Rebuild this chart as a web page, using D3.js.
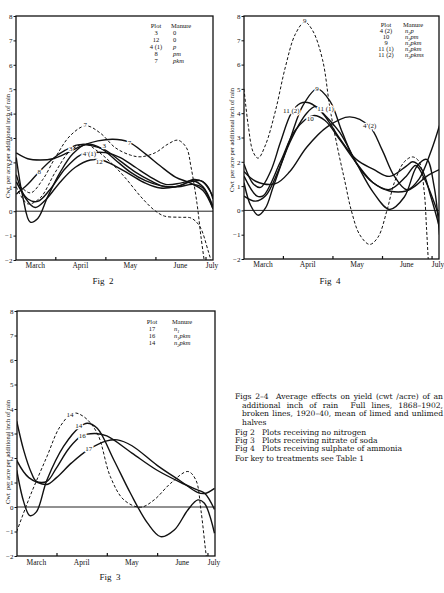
<!DOCTYPE html>
<html>
<head>
<meta charset="utf-8">
<script src="https://cdn.jsdelivr.net/npm/d3@7"></script>
<style>
  body { margin: 0; background: #fff; }
  svg text { font-family: "Liberation Serif", "DejaVu Serif", serif; fill: #111; }
</style>
</head>
<body>
<div id="chart"></div>
<script>

// x values are months counted from 1 March (1 = 1 April ...), y in cwt/acre per inch of rain
var monthLabels = ["March", "April", "May", "June", "July"];
var monthLabelPos = [0.6, 1.5, 2.5, 3.5, 4.13];
var monthTicks = [1, 2, 3, 4];
var yTicks = [-2, -1, 0, 1, 2, 3, 4, 5, 6, 7, 8];

// ---- Fig 2 : no nitrogen
var f2_7 = [[0.22,2.39],[0.45,2.15],[0.7,2.1],[0.95,2.15],[1.25,2.4],[1.55,2.7],[1.85,2.88],[2.15,2.95],[2.45,2.85],[2.8,2.35],[3.1,1.85],[3.4,1.4],[3.7,1.15],[3.95,0.85],[4.15,0.1]];
var f2_3 = [[0.22,2.2],[0.35,0.6],[0.5,-0.45],[0.65,-0.3],[0.85,0.6],[1.1,1.6],[1.35,2.35],[1.62,2.75],[1.9,2.6],[2.2,2.1],[2.5,1.6],[2.8,1.25],[3.1,1.05],[3.45,1.0],[3.75,1.1],[3.95,0.95],[4.15,0.1]];
var f2_12 = [[0.22,1.5],[0.4,0.55],[0.6,0.15],[0.8,0.45],[1.1,1.2],[1.4,1.8],[1.7,2.1],[1.95,2.08],[2.2,1.85],[2.5,1.5],[2.8,1.15],[3.1,0.95],[3.4,1.0],[3.7,1.2],[3.9,1.25],[4.05,1.0],[4.15,0.5]];
var f2_41 = [[0.22,1.2],[0.45,0.5],[0.65,0.4],[0.9,0.9],[1.2,1.75],[1.5,2.3],[1.75,2.4],[2.0,2.4],[2.3,2.2],[2.6,1.8],[2.9,1.4],[3.2,1.1],[3.5,1.15],[3.75,1.25],[3.95,1.0],[4.15,0.2]];
var f2_8 = [[0.22,0.7],[0.45,1.1],[0.68,1.62],[0.95,2.15],[1.2,2.5],[1.45,2.72],[1.7,2.7],[2.0,2.5],[2.3,2.05],[2.6,1.6],[2.9,1.25],[3.2,1.0],[3.5,1.05],[3.75,1.3],[3.95,1.2],[4.15,0.6]];
var f2_7b = [[0.22,1.2],[0.5,0.75],[0.75,1.3],[1.0,2.2],[1.3,3.1],[1.61,3.5],[1.9,3.2],[2.2,2.6],[2.5,2.3],[2.71,2.23],[3.0,2.4],[3.25,2.75],[3.45,2.91],[3.62,2.6],[3.71,1.82],[3.83,0.32],[3.91,-1.05],[3.98,-2.1]];
var f2_3b = [[0.22,1.0],[0.45,0.3],[0.7,0.55],[1.0,1.6],[1.31,2.5],[1.6,2.75],[1.85,2.45],[2.08,2.05],[2.38,1.41],[2.71,0.59],[2.98,0.04],[3.18,-0.2],[3.5,-0.25],[3.71,-0.28],[3.88,-0.6],[4.05,-1.6],[4.12,-2.1]];
var fig2Series = [f2_7, f2_3, f2_12, f2_41, f2_8, f2_7b, f2_3b];
var fig2Broken = [false, false, false, false, false, true, true];
var fig2LabelText = ["7", "7", "3", "3", "4 (1)", "12", "8"];
var fig2LabelX = [1.6, 2.48, 1.31, 1.98, 1.68, 1.88, 0.68];
var fig2LabelY = [3.55, 2.82, 2.57, 2.7, 2.36, 2.05, 1.64];
var fig2LegendPlot = ["3", "12", "4 (1)", "8", "7"];
var fig2LegendManure = ["0", "0", "p", "pm", "pkm"];

// ---- Fig 4 : sulphate of ammonia
var f4_112 = [[0.215,1.9],[0.4,1.1],[0.55,0.95],[0.75,1.6],[0.95,2.8],[1.17,4.0],[1.35,4.4],[1.54,4.42],[1.8,4.0],[2.15,2.95],[2.48,2.1],[2.82,1.7],[3.15,1.4],[3.49,1.82],[3.62,2.0],[3.8,1.7],[3.98,0.6],[4.16,-0.7]];
var f4_9 = [[0.215,0.59],[0.45,0.38],[0.65,0.6],[0.9,1.6],[1.14,2.9],[1.4,4.3],[1.69,5.0],[1.95,4.5],[2.2,3.2],[2.48,1.95],[2.82,1.14],[3.15,0.86],[3.49,1.41],[3.68,1.85],[3.88,1.2],[4.16,-0.3]];
var f4_111 = [[0.215,1.14],[0.35,0.2],[0.5,-0.2],[0.65,0.1],[0.81,1.0],[1.14,2.8],[1.48,4.0],[1.66,4.28],[1.81,4.0],[2.15,3.2],[2.48,1.96],[2.82,0.75],[3.15,0.04],[3.45,0.55],[3.7,1.8],[3.9,2.1],[4.05,1.0],[4.16,-1.0]];
var f4_10 = [[0.215,1.41],[0.47,0.6],[0.6,0.6],[0.95,2.0],[1.25,3.3],[1.61,3.9],[1.85,3.7],[2.15,2.9],[2.48,1.96],[2.82,1.14],[3.15,0.8],[3.49,0.8],[3.7,1.05],[3.9,1.4],[4.16,1.68]];
var f4_42 = [[0.215,1.6],[0.45,1.2],[0.85,1.1],[1.14,1.6],[1.48,2.6],[1.9,3.45],[2.35,3.85],[2.75,3.45],[3.0,2.5],[3.25,1.4],[3.5,0.85],[3.75,1.3],[4.0,2.5],[4.16,3.5]];
var f4_9b = [[0.215,5.0],[0.3,3.5],[0.4,2.4],[0.5,2.15],[0.65,2.7],[0.85,4.1],[1.05,5.9],[1.25,7.25],[1.44,7.75],[1.6,7.4],[1.8,6.2],[1.95,4.2],[2.1,2.6],[2.25,1.2],[2.38,0],[2.55,-1.0],[2.75,-1.4],[2.92,-1.1],[3.1,0],[3.25,1.15],[3.45,2.0],[3.62,2.2],[3.75,2.0],[3.85,0.8],[3.9,-0.8],[3.94,-2.3]];
var fig4Series = [f4_112, f4_9, f4_111, f4_10, f4_42, f4_9b];
var fig4Broken = [false, false, false, false, false, true];
var fig4LabelText = ["9", "9", "11 (2)", "11 (1)", "10", "4 (2)"];
var fig4LabelX = [1.44, 1.69, 1.17, 1.86, 1.55, 2.75];
var fig4LabelY = [7.8, 5.0, 4.1, 4.18, 3.8, 3.5];
var fig4LegendPlot = ["4 (2)", "10", "9", "11 (1)", "11 (2)"];
var fig4LegendManure = ["n2p", "n2pm", "n2pkm", "n3pkm", "n3pkms"];

// ---- Fig 3 : nitrate of soda
var f3_14 = [[0.21,1.5],[0.35,0.2],[0.47,-0.35],[0.6,-0.2],[0.81,1.1],[1.14,2.47],[1.47,3.28],[1.61,3.42],[1.81,3.21],[2.14,1.92],[2.47,0.56],[2.81,-0.66],[3.07,-1.21],[3.34,-0.94],[3.61,-0.12],[3.81,0.29],[3.94,0.15],[4.14,-1.07]];
var f3_16 = [[0.21,3.5],[0.35,2.3],[0.5,1.4],[0.6,1.05],[0.81,1.05],[1.0,1.6],[1.25,2.4],[1.5,2.9],[1.77,3.0],[2.0,2.9],[2.5,2.2],[3.0,1.5],[3.47,1.0],[3.8,0.7],[3.95,0.55],[4.14,-0.1]];
var f3_17 = [[0.21,1.9],[0.45,1.2],[0.81,0.92],[1.0,1.2],[1.3,1.8],[1.64,2.35],[2.0,2.7],[2.21,2.74],[2.5,2.5],[3.0,1.7],[3.47,1.05],[3.8,0.6],[3.95,0.55],[4.14,0.76]];
var f3_14b = [[0.21,-1.0],[0.47,0.42],[0.81,2.06],[1.07,3.28],[1.33,3.83],[1.54,3.69],[1.81,3.01],[2.07,1.24],[2.34,0.29],[2.67,-0.01],[2.94,0.29],[3.27,0.97],[3.61,1.45],[3.77,1.1],[3.87,-0.12],[3.97,-1.89],[4.0,-2.3]];
var fig3Series = [f3_14, f3_16, f3_17, f3_14b];
var fig3Broken = [false, false, false, true];
var fig3LabelText = ["14", "14", "16", "17"];
var fig3LabelX = [1.27, 1.44, 1.51, 1.64];
var fig3LabelY = [3.78, 3.32, 2.92, 2.4];
var fig3LegendPlot = ["17", "16", "14"];
var fig3LegendManure = ["n1", "n1pkm", "n2pkm"];

var captionLines = [
  "Figs 2\u20134  Average effects on yield (cwt /acre) of an",
  "additional inch of rain  Full lines, 1868\u20131902,",
  "broken lines, 1920\u201340, mean of limed and unlimed",
  "halves",
  "Fig 2   Plots receiving no nitrogen",
  "Fig 3   Plots receiving nitrate of soda",
  "Fig 4   Plots receiving sulphate of ammonia",
  "For key to treatments see Table 1"
];

var W = 444, H = 593;
var xDomain = [0.215, 4.15];

var svg = d3.select("#chart").append("svg")
  .attr("width", W).attr("height", H);

var panels = [
  { name: "f2", left: 16, right: 213, top: 16, bottom: 260, ylabX: 8, ylabY: 146, monthY: 268,
    fig: "Fig 2", figX: 103, figY: 284,
    series: fig2Series, broken: fig2Broken, lt: fig2LabelText, lx: fig2LabelX, ly: fig2LabelY,
    legPlot: fig2LegendPlot, legMan: fig2LegendManure, legPX: 156, legMX: 171, legY: 28, legStep: 7 },
  { name: "f4", left: 244, right: 439, top: 16, bottom: 259, ylabX: 232, ylabY: 140, monthY: 267,
    fig: "Fig 4", figX: 330, figY: 284,
    series: fig4Series, broken: fig4Broken, lt: fig4LabelText, lx: fig4LabelX, ly: fig4LabelY,
    legPlot: fig4LegendPlot, legMan: fig4LegendManure, legPX: 386, legMX: 403, legY: 27, legStep: 6 },
  { name: "f3", left: 17, right: 215, top: 311, bottom: 556, ylabX: 8, ylabY: 452, monthY: 565,
    fig: "Fig 3", figX: 110, figY: 580,
    series: fig3Series, broken: fig3Broken, lt: fig3LabelText, lx: fig3LabelX, ly: fig3LabelY,
    legPlot: fig3LegendPlot, legMan: fig3LegendManure, legPX: 152, legMX: 172, legY: 324, legStep: 7 }
];

panels.forEach(drawPanel);

function drawPanel(p) {
  var g = svg.append("g");
  var x = d3.scaleLinear().domain(xDomain).range([p.left, p.right]);
  var y = d3.scaleLinear().domain([-2, 8]).range([p.bottom, p.top]);

  svg.append("clipPath").attr("id", "clip-" + p.name)
    .append("rect")
    .attr("x", p.left).attr("y", p.top)
    .attr("width", p.right - p.left).attr("height", p.bottom - p.top);

  // zero line
  g.append("line")
    .attr("x1", p.left).attr("x2", p.right)
    .attr("y1", y(0)).attr("y2", y(0))
    .attr("stroke", "#222").attr("stroke-width", 1);

  var line = d3.line()
    .x(function(d) { return x(d[0]); })
    .y(function(d) { return y(d[1]); })
    .curve(d3.curveCatmullRom.alpha(0.5));

  g.append("g").attr("clip-path", "url(#clip-" + p.name + ")")
    .selectAll("path")
    .data(p.series).enter()
    .append("path")
    .attr("d", line)
    .attr("fill", "none")
    .attr("stroke", "#111")
    .attr("stroke-width", function(d, i) { return p.broken[i] ? 1 : 1.4; })
    .attr("stroke-dasharray", function(d, i) { return p.broken[i] ? "3,2" : null; });

  // curve labels, knocked out of the line
  g.selectAll(".clab")
    .data(p.lt).enter()
    .append("text")
    .attr("class", "clab")
    .attr("x", function(d, i) { return x(p.lx[i]); })
    .attr("y", function(d, i) { return y(p.ly[i]) + 2.5; })
    .attr("text-anchor", "middle")
    .style("font-size", "7px")
    .style("stroke", "#fff").style("stroke-width", 2.5)
    .style("paint-order", "stroke")
    .text(function(d) { return d; });

  // frame
  g.append("rect")
    .attr("x", p.left).attr("y", p.top)
    .attr("width", p.right - p.left).attr("height", p.bottom - p.top)
    .attr("fill", "none").attr("stroke", "#111").attr("stroke-width", 1.3);

  // y axis
  var yAxis = d3.axisLeft(y).tickValues(yTicks).tickSize(2.5).tickPadding(1);
  var ya = g.append("g").attr("transform", "translate(" + p.left + ",0)").call(yAxis);
  ya.select(".domain").remove();
  ya.selectAll("line").attr("stroke", "#111").attr("stroke-width", 1);
  ya.selectAll("text").style("font-size", "7px").style("font-family", "Liberation Serif, serif").attr("fill", "#111");

  // x axis ticks (inward), month names in between
  var xAxis = d3.axisBottom(x).tickValues(monthTicks).tickSize(-3).tickFormat("");
  var xa = g.append("g").attr("transform", "translate(0," + p.bottom + ")").call(xAxis);
  xa.select(".domain").remove();
  xa.selectAll("line").attr("stroke", "#111").attr("stroke-width", 1.2);

  g.selectAll(".mlab")
    .data(monthLabels).enter()
    .append("text")
    .attr("class", "mlab")
    .attr("x", function(d, i) { return x(monthLabelPos[i]); })
    .attr("y", p.monthY)
    .attr("text-anchor", "middle")
    .style("font-size", "7.5px")
    .text(function(d) { return d; });

  g.append("text")
    .attr("transform", "translate(" + p.ylabX + "," + p.ylabY + ") rotate(-90)")
    .attr("text-anchor", "middle")
    .attr("dy", "0.35em")
    .style("font-size", "6.5px")
    .style("white-space", "pre")
    .text("Cwt  per acre per additional inch of rain");

  g.append("text")
    .attr("x", p.figX).attr("y", p.figY)
    .attr("text-anchor", "middle")
    .style("font-size", "9px")
    .style("white-space", "pre")
    .text(p.fig.replace(" ", "  "));

  // legend
  var leg = g.append("g").style("font-size", "6.5px");
  leg.append("text").attr("x", p.legPX).attr("y", p.legY).attr("text-anchor", "middle").text("Plot");
  leg.append("text").attr("x", p.legMX).attr("y", p.legY).text("Manure");
  leg.selectAll(".lp").data(p.legPlot).enter()
    .append("text").attr("class", "lp")
    .attr("x", p.legPX).attr("y", function(d, i) { return p.legY + p.legStep * (i + 1); })
    .attr("text-anchor", "middle")
    .text(function(d) { return d; });
  leg.selectAll(".lm").data(p.legMan).enter()
    .append("text").attr("class", "lm")
    .attr("x", p.legMX + 2).attr("y", function(d, i) { return p.legY + p.legStep * (i + 1); })
    .style("font-style", "italic")
    .each(function(d) {
      var t = d3.select(this);
      if (d === "0") { t.style("font-style", "normal").text(d); return; }
      // n2pkm -> n + subscript 2 + pkm
      var m = d.match(/^n(\d)(.*)$/);
      if (m) {
        t.append("tspan").text("n");
        t.append("tspan").attr("dy", 1.5).style("font-size", "4.5px").text(m[1]);
        t.append("tspan").attr("dy", -1.5).text(m[2]);
      } else {
        t.text(d);
      }
    });
}

// caption at lower right, justified by word spacing
var capX = [235, 242, 242, 242, 235, 235, 235, 235];
var capY = [399, 407.5, 416, 424.5, 435, 443, 451, 461];
var capJustify = [true, true, true, false, false, false, false, false];
var capRight = 443;

var capText = svg.append("g").selectAll("text")
  .data(captionLines).enter()
  .append("text")
  .attr("x", function(d, i) { return capX[i]; })
  .attr("y", function(d, i) { return capY[i]; })
  .style("font-family", "DejaVu Serif, serif")
  .style("font-size", "8px")
  .style("white-space", "pre")
  .text(function(d) { return d; });

// one font size so that every justified line fits, then spread the words
var fit = 1;
capText.each(function(d, i) {
  if (!capJustify[i]) return;
  var r = (capRight - capX[i] - 6) / this.getComputedTextLength();
  if (r < fit) fit = r;
});
capText.style("font-size", (8 * fit) + "px");
capText.each(function(d, i) {
  if (!capJustify[i]) return;
  var len = this.getComputedTextLength();
  var gaps = d.split(" ").length - 1;
  d3.select(this).style("word-spacing", ((capRight - capX[i] - len) / gaps) + "px");
});

</script>
</body>
</html>
